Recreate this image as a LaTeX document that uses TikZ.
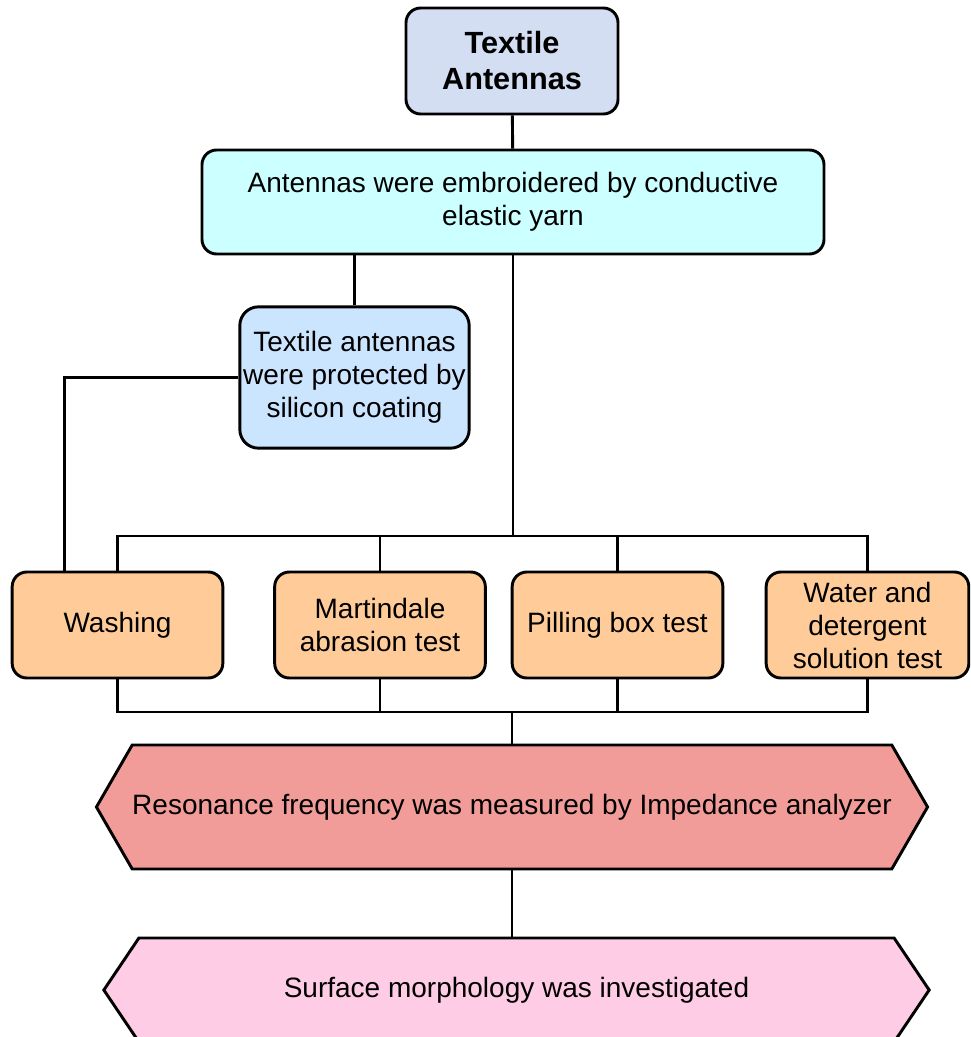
\documentclass[tikz,border=0pt]{standalone}
\usepackage{fontspec}
\setmainfont{Liberation Sans}
\usetikzlibrary{shapes.symbols,calc}
\definecolor{topblue}{RGB}{212,222,242}
\definecolor{embcyan}{RGB}{204,255,255}
\definecolor{protblue}{RGB}{204,229,255}
\definecolor{testorange}{RGB}{255,204,153}
\definecolor{resred}{RGB}{241,156,153}
\definecolor{surfpink}{RGB}{255,204,230}

\begin{document}
\begin{tikzpicture}[x=0.75pt,y=-0.75pt,line width=2.2pt,
  every node/.style={font=\fontsize{21}{24.75}\selectfont, align=center, inner sep=2pt},
  box/.style={rectangle, rounded corners=11pt, draw},
  test/.style={box, fill=testorange, minimum width=158pt, minimum height=79.5pt},
  hexa/.style={signal, signal to=west and east, signal from=nowhere, draw}]
\useasboundingbox (0,0) rectangle (970,1037);
\clip (0,0) rectangle (970,1037);
\node (top) [box, fill=topblue, minimum width=159pt, minimum height=79.5pt, font=\fontsize{23}{27}\selectfont\bfseries] at (512,61) {Textile\\Antennas};
\node (emb) [box, fill=embcyan, minimum width=466.5pt, minimum height=78pt] at (513,202) {Antennas were embroidered by conductive\\elastic yarn};
\node (prot) [box, fill=protblue, minimum width=172pt, minimum height=106pt, rounded corners=14pt] at (354.5,377.5) {Textile antennas\\were protected by\\silicon coating};
\node (wash) [test] at (117.5,625) {Washing};
\node (mart) [test] at (380,625) {Martindale\\abrasion test};
\node (pill) [test] at (617.5,625) {Pilling box test};
\node (wat) [test, minimum width=152pt] at (867.5,625) {Water and\\detergent\\solution test};
\node (res) [hexa, fill=resred, minimum width=619.5pt, minimum height=93pt, inner xsep=0pt, signal pointer angle=120] at (512,807) {Resonance frequency was measured by Impedance analyzer};
\node (surf) [hexa, fill=surfpink, minimum width=619pt, minimum height=78pt, signal pointer angle=112] at (516.5,990) {Surface morphology was investigated};
\coordinate (wtop) at ($(wash.north west)!0.25!(wash.north east)$);
\coordinate (bustop) at (513,536);
\coordinate (busbot) at (512,712);
\draw (top) -- (emb);
\draw (prot.north) -- (prot.north |- emb.south);
\draw (prot.west) -| (wtop);
\draw (emb.south) -- (bustop);
\draw (wash.north) |- (bustop) -| (wat.north);
\draw (mart.north) -- (mart.north |- bustop);
\draw (pill.north) -- (pill.north |- bustop);
\draw (wash.south) |- (busbot) -| (wat.south);
\draw (mart.south) -- (mart.south |- busbot);
\draw (pill.south) -- (pill.south |- busbot);
\draw (busbot) -- (res.north);
\draw (res.south) -- (res.south |- surf.north);
\end{tikzpicture}
\end{document}
